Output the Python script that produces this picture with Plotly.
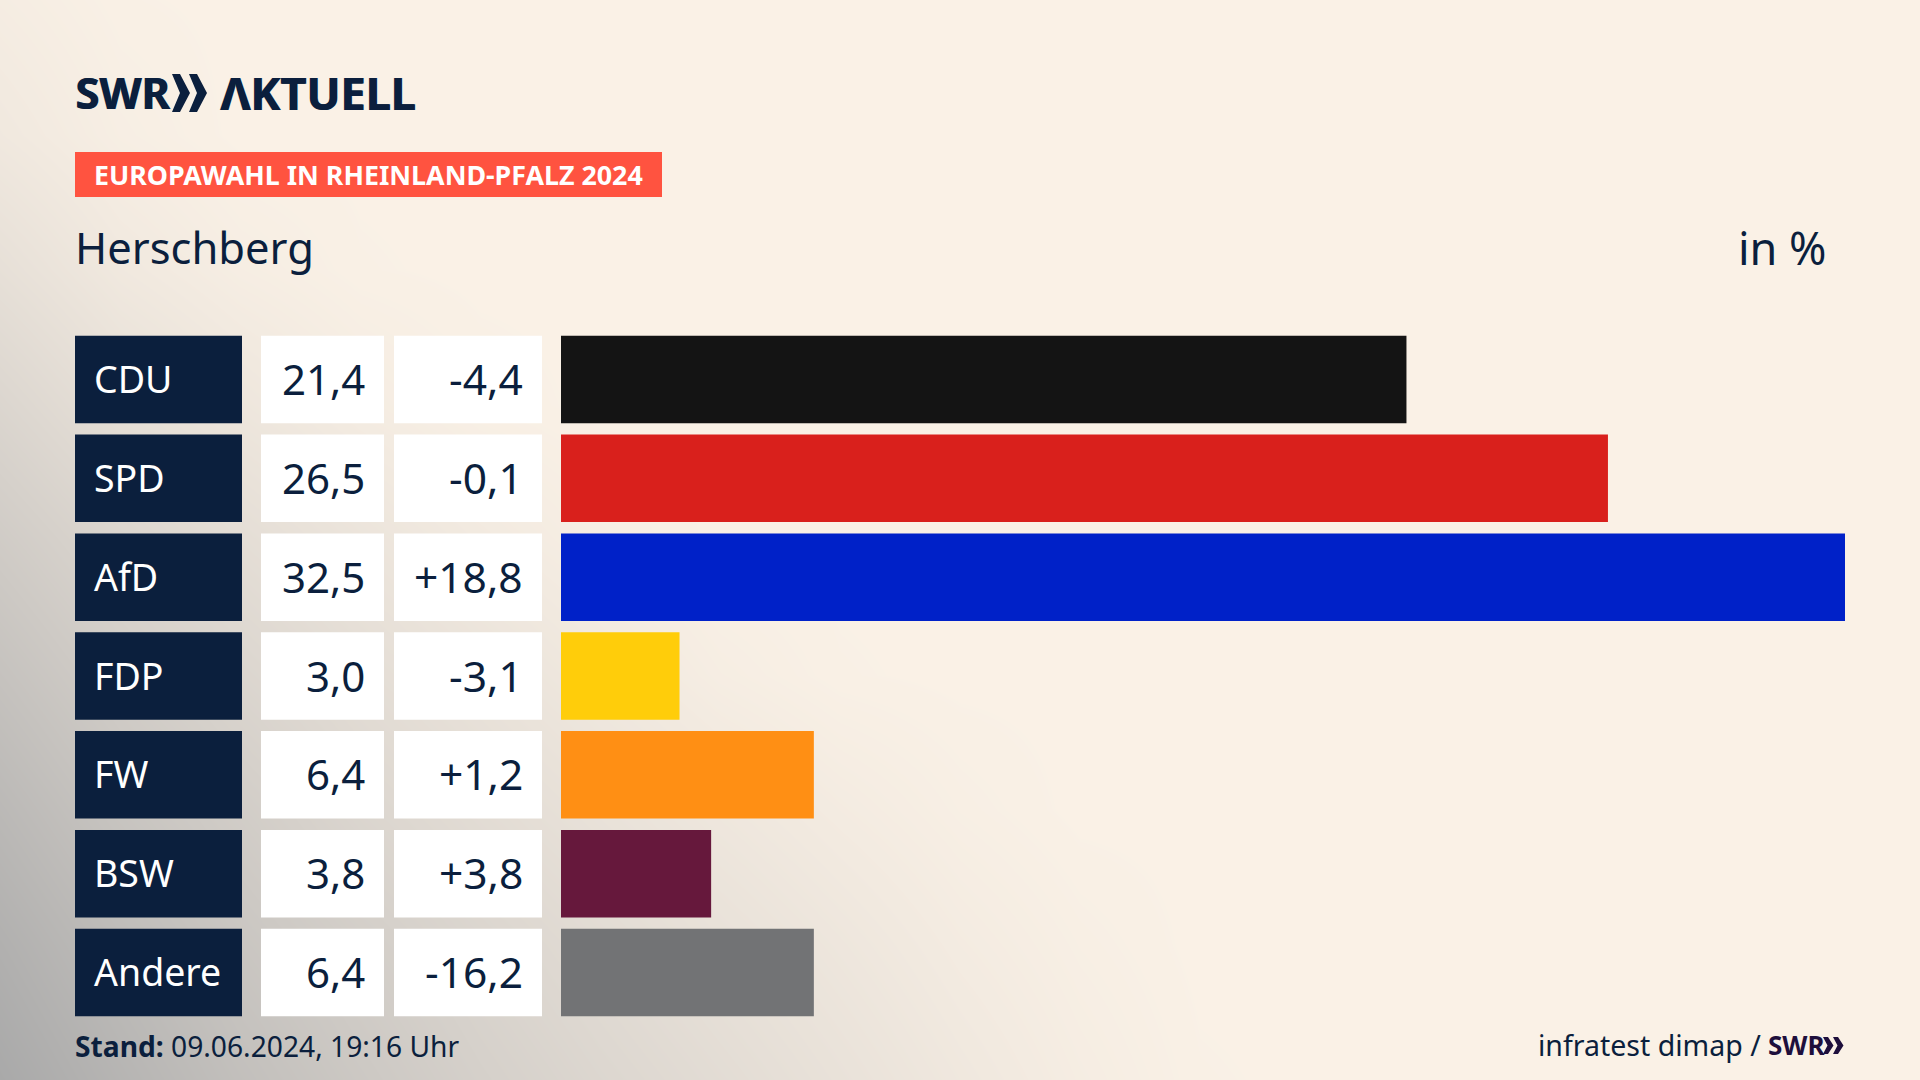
import plotly.graph_objects as go

# chart data
parties = ["CDU", "SPD", "AfD", "FDP", "FW", "BSW", "Andere"]
shares = [21.4, 26.5, 32.5, 3.0, 6.4, 3.8, 6.4]
changes = [-4.4, -0.1, 18.8, -3.1, 1.2, 3.8, -16.2]
bar_colors = ["#141414", "#D9201C", "#0021C8", "#FFCD0A", "#FF8F14", "#66183C", "#727375"]
cell_full = [1, 1, 1, 1, 1, 1, 1]

# background shading, 0 = cream, 1 = grey on a coarse grid
bg_x = [0, 120, 240, 360, 480, 600, 720, 840, 960, 1080, 1200, 1320, 1440, 1560, 1680, 1800, 1920]
bg_y = [0, 135, 270, 405, 540, 675, 810, 945, 1080]
bg_z = [
    [.06, .01, 0, 0, 0, 0, 0, 0, 0, 0, 0, 0, 0, 0, 0, 0, 0],
    [.12, .04, 0, 0, 0, 0, 0, 0, 0, 0, 0, 0, 0, 0, 0, 0, 0],
    [.24, .12, .05, .01, 0, 0, 0, 0, 0, 0, 0, 0, 0, 0, 0, 0, 0],
    [.38, .24, .15, .07, .02, 0, 0, 0, 0, 0, 0, 0, 0, 0, 0, 0, 0],
    [.52, .38, .27, .18, .10, .04, 0, 0, 0, 0, 0, 0, 0, 0, 0, 0, 0],
    [.65, .50, .38, .28, .20, .12, .05, .01, 0, 0, 0, 0, 0, 0, 0, 0, 0],
    [.78, .62, .50, .38, .29, .21, .14, .08, .03, 0, 0, 0, 0, 0, 0, 0, 0],
    [.90, .74, .60, .49, .39, .30, .22, .15, .08, .03, 0, 0, 0, 0, 0, 0, 0],
    [1, .84, .69, .57, .46, .37, .29, .21, .13, .06, .01, 0, 0, 0, 0, 0, 0],
]

NAVY = "#0B1F3D"
PURPLE = "#1E0F3C"
FONT = "Noto Sans"
W, H = 1920, 1080


def de_num(v, signed=False):
    s = f"{v:+.1f}" if signed else f"{v:.1f}"
    return s.replace(".", ",")


fig = go.Figure()

fig.add_trace(
    go.Heatmap(
        x=bg_x, y=bg_y, z=bg_z, zmin=0, zmax=1, zsmooth="best",
        colorscale=[[0, "#FAF1E6"], [1, "#A9A9A9"]],
        showscale=False, hoverinfo="skip",
    )
)

# table columns, each on its own x axis
fig.add_trace(go.Bar(y=parties, x=cell_full, orientation="h", xaxis="x2", yaxis="y2",
                     marker=dict(color=NAVY, line_width=0), hoverinfo="skip"))
fig.add_trace(go.Bar(y=parties, x=cell_full, orientation="h", xaxis="x3", yaxis="y2",
                     marker=dict(color="white", line_width=0), hoverinfo="skip"))
fig.add_trace(go.Bar(y=parties, x=cell_full, orientation="h", xaxis="x4", yaxis="y2",
                     marker=dict(color="white", line_width=0), hoverinfo="skip"))
fig.add_trace(go.Bar(y=parties, x=shares, orientation="h", xaxis="x5", yaxis="y2",
                     marker=dict(color=bar_colors, line_width=0),
                     hovertemplate="%{y}: %{x}%<extra></extra>"))


def add_text(x, y, text, size, color=NAVY, anchor="left", yref="y", family=FONT, yshift=0, shadow=None):
    fig.add_annotation(x=x, y=y, xref="x", yref=yref, text=text, showarrow=False,
                       xanchor=anchor, yanchor="middle", yshift=yshift,
                       font=dict(family=family, size=size, color=color, shadow=shadow))


for party, share, change in zip(parties, shares, changes):
    add_text(91.5, party, party, 37.5, color="white", yref="y2", yshift=1)
    add_text(367, party, de_num(share), 42, anchor="right", yref="y2", yshift=1)
    add_text(524.5, party, de_num(change, signed=True), 42.5, anchor="right", yref="y2", yshift=1)

# header, the wordmark gets a thin text shadow to look heavier
logo_shadow = f"1px 0 0 {NAVY}"
add_text(73, 92, "<b>SWR</b>", 43.5, shadow=logo_shadow)
add_text(218, 92, "<b>ΛKTUELL</b>", 45, shadow=logo_shadow)
add_text(92, 174, "<b>EUROPAWAHL IN RHEINLAND-PFALZ 2024</b>", 26.8, color="white")
add_text(73, 247, "Herschberg", 43.5)
add_text(1829, 247, "in %", 45, anchor="right")

# footer
add_text(73, 1046, "<b>Stand:</b> 09.06.2024, 19:16 Uhr", 28.2)
add_text(1763, 1045, "infratest dimap /", 28.5, anchor="right")
add_text(1766, 1045, "<b>SWR</b>", 26, color=PURPLE)

shapes = [
    dict(type="rect", xref="x", yref="y", x0=75, x1=662, y0=152, y1=197,
         fillcolor="#FF5340", line_width=0),
]


def chevron(x, y_top, y_bot, w, t, inner, color):
    ym = (y_top + y_bot) / 2
    path = (f"M{x},{y_top} L{x + t},{y_top} L{x + w},{ym} L{x + t},{y_bot} L{x},{y_bot} "
            f"L{x + inner},{ym} Z")
    return dict(type="path", xref="x", yref="y", path=path, fillcolor=color, line_width=0)


shapes += [chevron(172, 74, 112, 18, 8, 8, NAVY), chevron(189, 74, 112, 18, 8, 8, NAVY)]
shapes += [chevron(1823, 1037, 1054, 10.5, 5, 4.5, PURPLE), chevron(1833, 1037, 1054, 10.5, 5, 4.5, PURPLE)]

hidden = dict(visible=False, showgrid=False, zeroline=False, fixedrange=True)

fig.update_layout(
    width=W, height=H,
    margin=dict(l=0, r=0, t=0, b=0),
    paper_bgcolor="#FAF1E6",
    plot_bgcolor="rgba(0,0,0,0)",
    showlegend=False,
    bargap=0.115,
    shapes=shapes,
    xaxis=dict(hidden, domain=[0, 1], range=[0, W]),
    yaxis=dict(hidden, domain=[0, 1], range=[H, 0]),
    xaxis2=dict(hidden, domain=[75 / W, 242 / W], range=[0, 1], anchor="y2"),
    xaxis3=dict(hidden, domain=[261 / W, 384 / W], range=[0, 1], anchor="y2"),
    xaxis4=dict(hidden, domain=[394 / W, 542 / W], range=[0, 1], anchor="y2"),
    xaxis5=dict(hidden, domain=[561 / W, 1845 / W], range=[0, 32.5], anchor="y2"),
    yaxis2=dict(hidden, domain=[1 - 1022 / H, 1 - 330 / H], type="category",
                categoryorder="array", categoryarray=parties, range=[6.5, -0.5], anchor="x2"),
)

# page has a default body margin, the reference is full bleed
fig.write_html(
    "out.html",
    config=dict(displayModeBar=False),
    post_script="document.body.style.margin = '0';",
)
